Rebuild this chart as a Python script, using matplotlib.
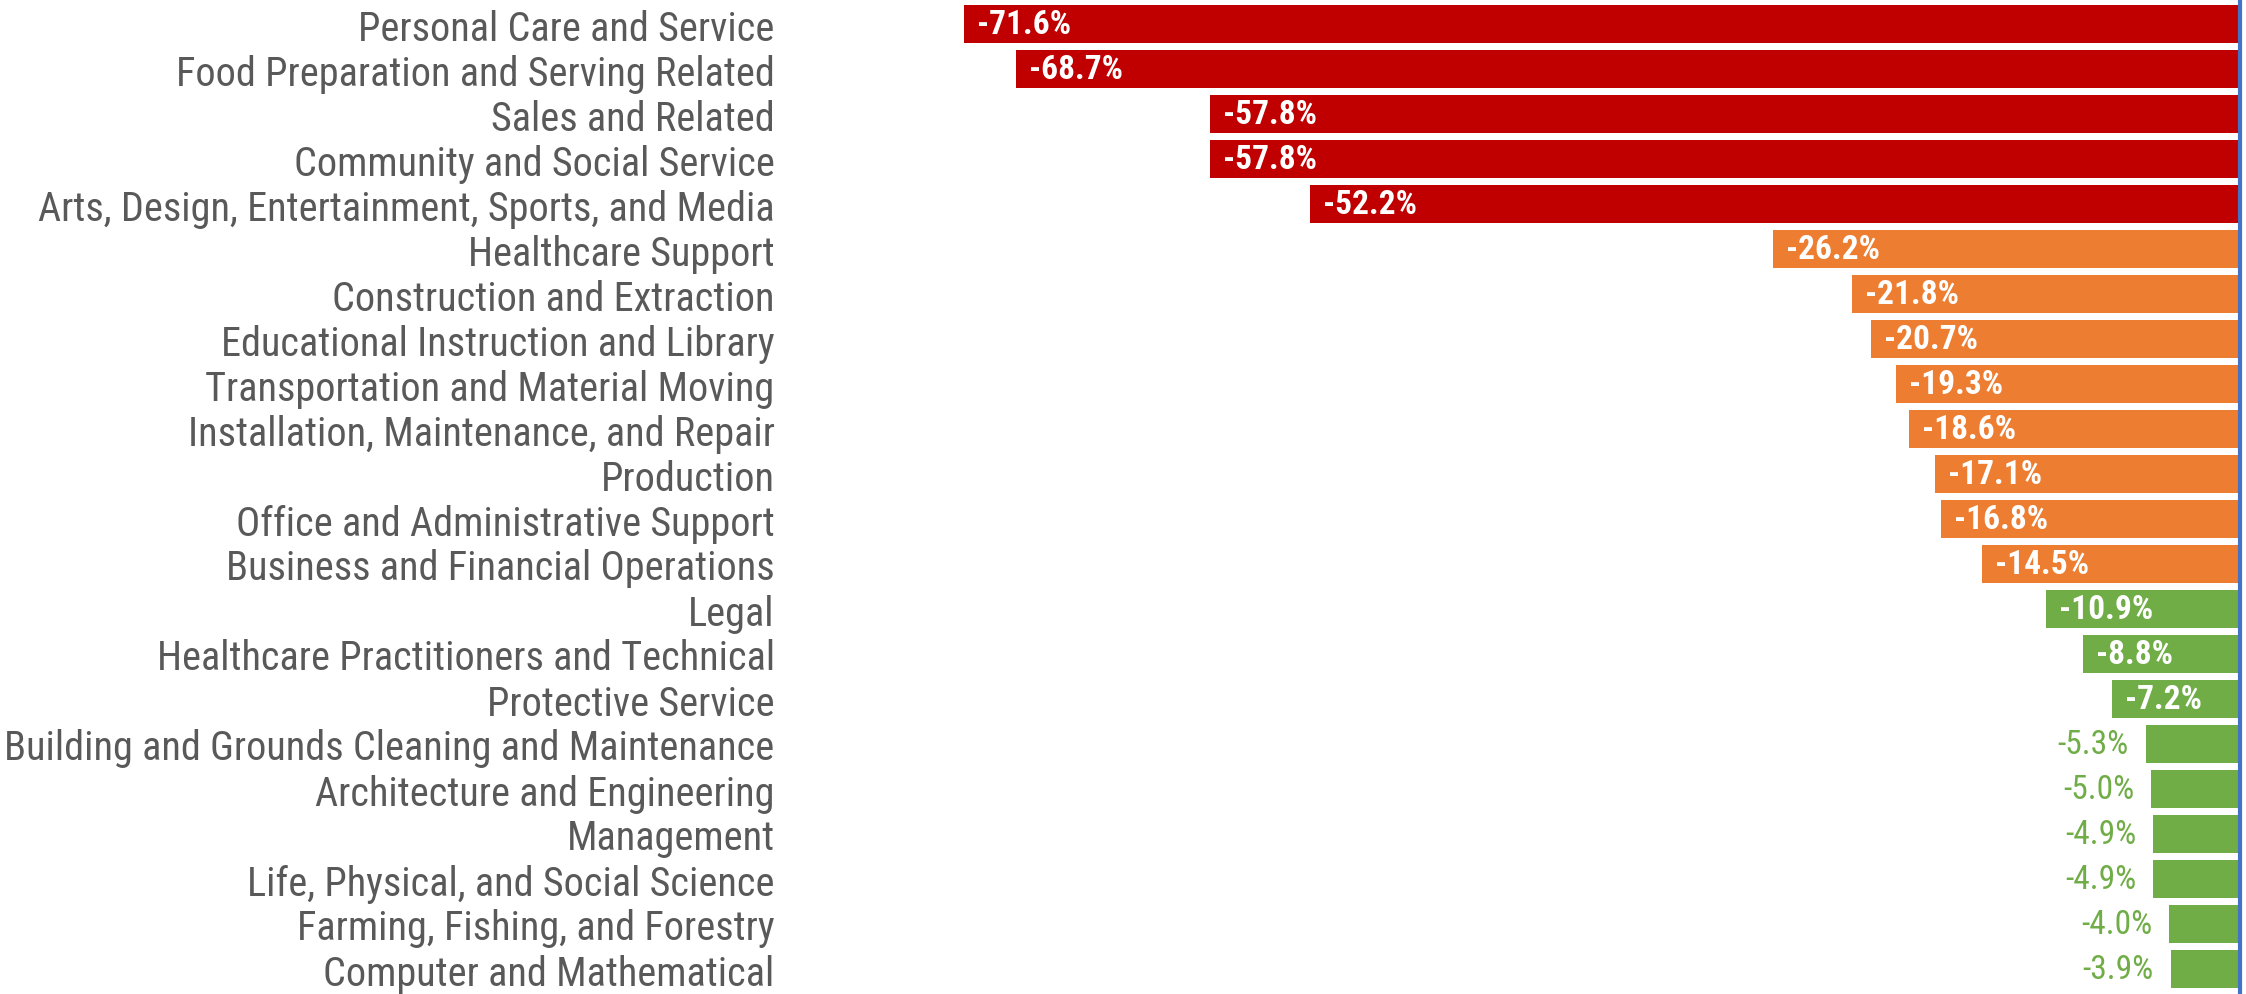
import matplotlib
matplotlib.use("Agg")
import matplotlib.pyplot as plt
from matplotlib import font_manager

categories = [
    "Personal Care and Service",
    "Food Preparation and Serving Related",
    "Sales and Related",
    "Community and Social Service",
    "Arts, Design, Entertainment, Sports, and Media",
    "Healthcare Support",
    "Construction and Extraction",
    "Educational Instruction and Library",
    "Transportation and Material Moving",
    "Installation, Maintenance, and Repair",
    "Production",
    "Office and Administrative Support",
    "Business and Financial Operations",
    "Legal",
    "Healthcare Practitioners and Technical",
    "Protective Service",
    "Building and Grounds Cleaning and Maintenance",
    "Architecture and Engineering",
    "Management",
    "Life, Physical, and Social Science",
    "Farming, Fishing, and Forestry",
    "Computer and Mathematical",
]
values = [-71.6, -68.7, -57.8, -57.8, -52.2, -26.2, -21.8, -20.7, -19.3, -18.6,
          -17.1, -16.8, -14.5, -10.9, -8.8, -7.2, -5.3, -5.0, -4.9, -4.9, -4.0, -3.9]

RED, ORANGE, GREEN = "#C00000", "#ED7D31", "#70AD47"
names = {f.name for f in font_manager.fontManager.ttflist}
prefs = ["Roboto Condensed", "Liberation Sans Narrow", "Archivo Narrow", "Liberation Sans"]
chosen = next(p for p in prefs if p in names)
plt.rcParams['font.family'] = [chosen, "DejaVu Sans"]

W, H = 2246, 995
fig = plt.figure(figsize=(W/100, H/100), dpi=100)
left_px, right_px = 790, 2240
ax = fig.add_axes([left_px/W, 2.5/H, (right_px-left_px)/W, 990/H])

def color_for(v):
    if v <= -50:
        return RED
    if v <= -12:
        return ORANGE
    return GREEN

ys = list(range(len(categories)))
cols = [color_for(v) for v in values]
ax.barh(ys, values, height=0.845, color=cols, zorder=2)
ax.set_ylim(len(categories)-0.5, -0.5)
ax.set_xlim(-(right_px-left_px)/17.82, 0)

ax.set_yticks(ys)
ax.set_yticklabels(categories, fontsize=29, color="#595959")
ax.tick_params(axis='y', length=0, pad=11)
ax.set_xticks([])
for s in ["top", "bottom", "left"]:
    ax.spines[s].set_visible(False)
ax.spines["right"].set_color("#4472C4")
ax.spines["right"].set_linewidth(3)

for y, v in zip(ys, values):
    if abs(v) >= 7:
        ax.annotate(f"{v:.1f}%", (v, y), xytext=(9.5, 0), textcoords="offset points",
                    ha="left", va="center", color="white", fontsize=24, fontweight="bold")
    else:
        ax.annotate(f"{v:.1f}%", (v, y), xytext=(-12, 0), textcoords="offset points",
                    ha="right", va="center", color=GREEN, fontsize=24)

fig.savefig("out.png", dpi=100)
